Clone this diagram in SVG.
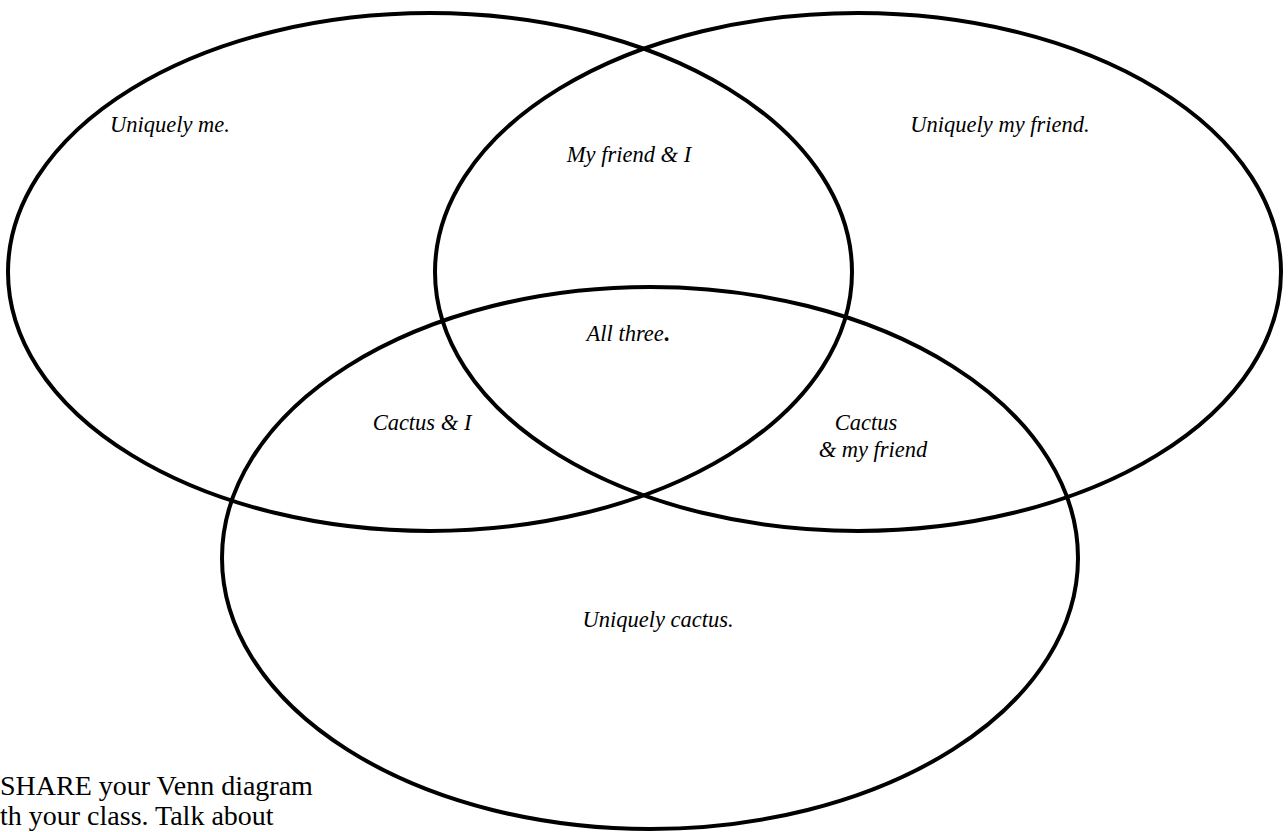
<svg xmlns="http://www.w3.org/2000/svg" width="1288" height="832" viewBox="0 0 1288 832">
<style>
.c{fill:none;stroke:#000;stroke-width:4}
.l{font-family:"Liberation Serif","DejaVu Serif",serif;font-style:italic;font-size:22.5px;fill:#000;text-anchor:middle}
.b{font-family:"Liberation Serif","DejaVu Serif",serif;font-size:28px;fill:#000}
</style>
<rect width="1288" height="832" fill="#fff"/>
<g id="me"><ellipse class="c" cx="430" cy="272" rx="422" ry="259"/></g>
<g id="friend"><ellipse class="c" cx="858" cy="272" rx="423" ry="259"/></g>
<g id="cactus"><ellipse class="c" cx="650" cy="558" rx="428" ry="271"/></g>
<g id="connectors"></g>
<g id="labels">
<text class="l" x="170" y="132">Uniquely me.</text>
<text class="l" x="1000" y="132">Uniquely my friend.</text>
<text class="l" x="629" y="162">My friend &amp; I</text>
<text class="l" x="628" y="341">All three<tspan font-style="normal" font-weight="bold">.</tspan></text>
<text class="l" x="422" y="430">Cactus &amp; I</text>
<text class="l" x="866" y="430">Cactus</text>
<text class="l" x="873" y="457">&amp; my friend</text>
<text class="l" x="658" y="627">Uniquely cactus.</text>
</g>
<g id="note">
<text class="b" x="0" y="795">SHARE your Venn diagram</text>
<text class="b" x="0" y="825">th your class. Talk about</text>
</g>
</svg>
